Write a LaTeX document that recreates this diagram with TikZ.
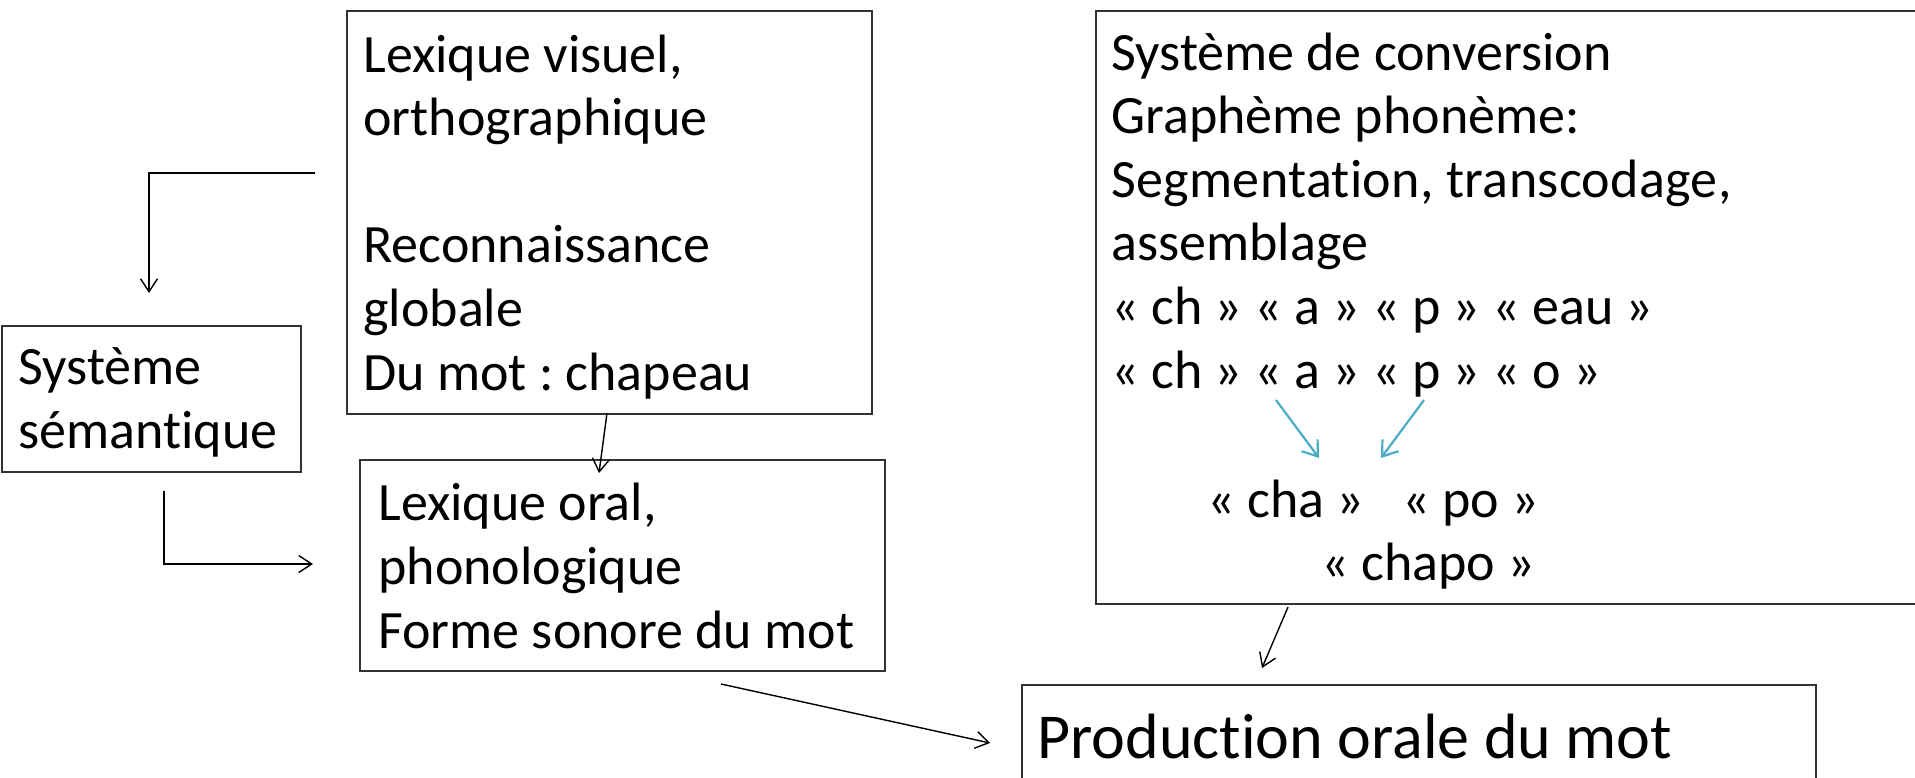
\documentclass[tikz,border=0pt]{standalone}
\usepackage{fontspec}
\setmainfont{Carlito}[Ligatures=NoCommon]
\usetikzlibrary{arrows.meta}
\definecolor{arrowblue}{RGB}{75,172,198}
\frenchspacing

\begin{document}
\begin{tikzpicture}[
    x=0.5pt, y=-0.5pt,
    box/.style={draw=black!80, line width=1pt, anchor=north west, inner sep=0pt},
    txt/.style={anchor=base west, inner sep=0pt, align=left, font=\fontsize{27}{31.8}\selectfont},
    bigtxt/.style={anchor=base west, inner sep=0pt, font=\fontsize{32}{38}\selectfont},
    arr/.style={-{Straight Barb[length=6.5pt,width=8.5pt]}, line width=0.7pt},
    bluearr/.style={-{Straight Barb[length=7pt,width=10pt]}, line width=1.1pt, draw=arrowblue}
]
\useasboundingbox (0,0) rectangle (1915,777);
\clip (0,0) rectangle (1915,777);

% boxes
\node[box, minimum width=262.5pt, minimum height=201.5pt] (lexvis) at (346,10) {};
\node[box, minimum width=149.5pt, minimum height=73pt] (sem) at (1,325) {};
\node[box, minimum width=262.5pt, minimum height=105.5pt] (lexoral) at (359,459) {};
\node[box, minimum width=417.5pt, minimum height=296.5pt] (conv) at (1095,10) {};
\node[box, minimum width=397pt, minimum height=60pt] (prod) at (1021,684) {};

% texts (placed by the baseline of their last line)
\node[txt] (lexvistxt) at (363,390) {Lexique visuel,\\orthographique\\[31.8pt]Reconnaissance\\globale\\Du mot : chapeau};
\node[txt] (semtxt) at (18,448) {Système\\sémantique};
\node[txt] (lexoraltxt) at (378,648) {Lexique oral,\\phonologique\\Forme sonore du mot};
\node[txt] (convtxt) at (1111,388) {Système de conversion\\Graphème phonème:\\{\addfontfeature{LetterSpace=0.6}Segmentation, transcodage,}\\assemblage\\« ch » « a » « p » « eau »\\« ch » « a » « p » « o »};
\node[txt] (cha) at (1207,517) {« cha »};
\node[txt] (po) at (1402,517) {« po »};
\node[txt] (chapo) at (1321,580) {« chapo »};
\node[bigtxt] (prodtxt) at (1037,758) {Production orale du mot};

% connector ends
\coordinate (visL) at (315,173);
\coordinate (semT) at (149,293);
\coordinate (semB) at (164,491);
\coordinate (oralL) at (313,564);
\coordinate (visB) at (607,413);
\coordinate (oralT) at (599,473);
\coordinate (convB) at (1288,607);
\coordinate (prodT) at (1262,668);
\coordinate (oralB) at (721,684);
\coordinate (prodL) at (990,743);
\coordinate (letA) at (1276,400);
\coordinate (letP) at (1424,400);
\coordinate (chaT) at (1319,458);
\coordinate (poT) at (1381,458);

% connectors
\draw[arr] (visL) -| (semT);
\draw[arr] (semB) |- (oralL);
\draw[arr] (visB) -- (oralT);
\draw[arr] (convB) -- (prodT);
\draw[arr] (oralB) -- (prodL);
\draw[bluearr] (letA) -- (chaT);
\draw[bluearr] (letP) -- (poT);

\end{tikzpicture}
\end{document}
